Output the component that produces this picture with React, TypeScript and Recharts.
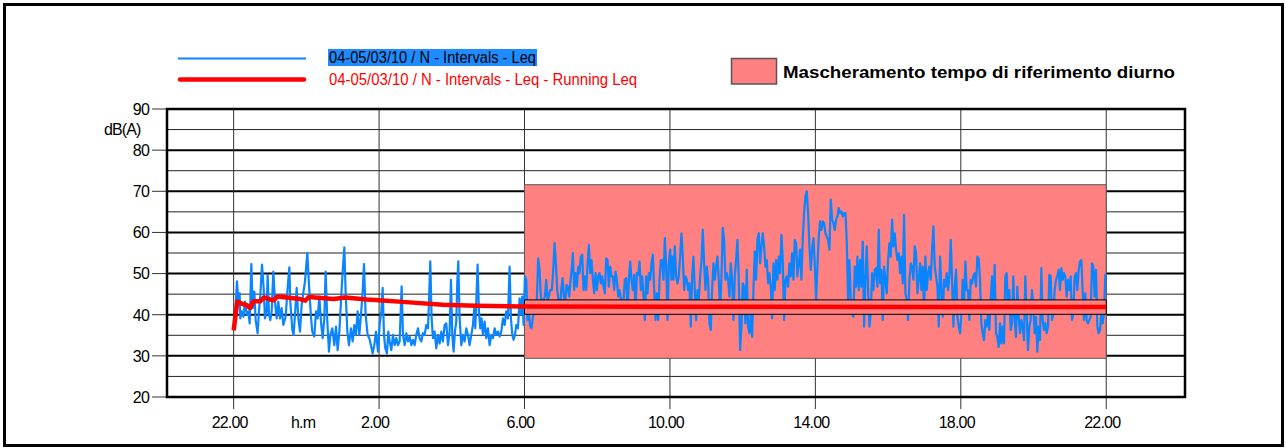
import React from 'react';
import { ComposedChart, Line, XAxis, YAxis, ReferenceLine, ReferenceArea } from 'recharts';

const FONT = '"Liberation Sans", Arial, sans-serif';

// x axis: minutes elapsed since 22:00 of the first day
const xTickMinutes = [0, 240, 480, 720, 960, 1200, 1440];
const xTickLabels = ['22.00', '2.00', '6.00', '10.00', '14.00', '18.00', '22.00'];
const xDomain = [-110, 1570];
const yTicks = [20, 30, 40, 50, 60, 70, 80, 90];
const yDomain = [20, 90];
const gridMajor = [30, 40, 50, 60, 70, 80];
const gridMinor = [25, 35, 45, 55, 65, 75, 85];

// daytime masking window
const maskStart = 480;
const maskEnd = 1440;
const maskLow = 29.4;
const maskHigh = 71.6;
const bandLow = 40.1;
const bandHigh = 43.6;

const seriesNames = [
  '04-05/03/10 / N - Intervals - Leq',
  '04-05/03/10 / N - Intervals - Leq - Running Leq',
];
const maskName = 'Mascheramento tempo di riferimento diurno';
const unitY = 'dB(A)';
const unitX = 'h.m';

// Leq intervals, [minute, dB(A)]
const leq2200to0200 = [
  [0, 37.5], [2, 38.7], [5.5, 48.1], [7.7, 43.2], [9.9, 45.2], [11, 39.1], [13.2, 40.8], [16, 39.5],
  [18.7, 43.2], [21.5, 40], [24.2, 40.8], [26.4, 37.9], [29.2, 52.3], [31.4, 41.6], [34.1, 45.6],
  [36.3, 38.7], [39.6, 35.5], [41.8, 40.8], [44, 44.8], [46.8, 52.2], [49.5, 46.5], [51.7, 39.1],
  [54.5, 40.8], [56.1, 49.7], [58.3, 40], [60.5, 38.7], [62.7, 40.8], [65.5, 50.5], [68.2, 43.2],
  [71, 39.1], [73.7, 43.2], [76.5, 39.1], [79.2, 41.6], [82, 37.5], [85.8, 39.5], [89.1, 46.5],
  [91.9, 51.5], [93.5, 43.2], [96.8, 36.3], [99, 35.1], [101.2, 40], [104, 46.5], [106.7, 39.1],
  [109.5, 35.9], [112.2, 42.4], [117.7, 48.1], [121.6, 55], [124.3, 47.3], [127.6, 39.5],
  [129.8, 35.9], [133.1, 34.7], [135.9, 40.8], [138.6, 39.1], [141.4, 44.4], [144.1, 38.3],
  [146.9, 34.3], [149.6, 39.1], [151.8, 50.5], [154.6, 38.3], [157.3, 31], [159.5, 35.1],
  [162.8, 36.7], [166.1, 32.6], [168.9, 37.1], [171.6, 31.4], [174.4, 35.9], [177.1, 43.2],
  [179.9, 50.5], [182.6, 56.4], [184.8, 45.6], [187.6, 35.9], [190.3, 32.6], [193.6, 36.7],
  [196.4, 33.5], [199.1, 37.5], [201.9, 35.1], [204.6, 40.8], [207.4, 35.1], [210.1, 40],
  [212.9, 45.6], [215.1, 52.3], [217.8, 40], [221.1, 35.1], [223.9, 34.3], [226.6, 32.6],
  [229.4, 30.6], [232.1, 32.6], [234.9, 35.9], [238.2, 31],
];

const leq0200to0600 = [
  [240.9, 37.5], [243.7, 40.8], [245.9, 46.5], [248.1, 35.1], [250.3, 31.8], [253, 30.6], [255.2, 35.9],
  [257.4, 33.5], [260.2, 31.4], [262.9, 35.1], [265.7, 32.6], [268.4, 34.3], [271.2, 32.6], [273.9, 33.5],
  [277.2, 46.9], [279.4, 35.1], [282.2, 32.6], [284.9, 35.5], [287.7, 33.5], [290.4, 34.7], [293.2, 32.6],
  [295.9, 33.9], [298.7, 32.6], [301.4, 35.1], [304.2, 36.7], [306.9, 34.3], [309.7, 33.5], [312.4, 35.5],
  [315.2, 35.1], [317.9, 37.5], [320.7, 36.7], [322.3, 43.2], [324.5, 53], [326.7, 39.1], [328.9, 34.3],
  [331.7, 35.9], [334.4, 31.8], [337.2, 35.1], [339.9, 33], [342.7, 35.9], [345.4, 33.5], [348.2, 37.5],
  [350.9, 37.9], [353.7, 32.6], [356.4, 35.9], [358.6, 48.5], [360.8, 35.1], [363, 31], [365.2, 35.9],
  [367.4, 38.3], [369.1, 48.1], [370.7, 53], [372.9, 39.1], [375.7, 32.6], [378.4, 35.1], [381.2, 33.5],
  [383.9, 36.7], [386.7, 35.1], [389.4, 32.6], [392.2, 35.1], [394.9, 37.5], [397.1, 41.6], [398.8, 36.7],
  [400.4, 43.2], [402.6, 52.2], [404.8, 40.8], [407, 36.7], [409.2, 39.1], [411.4, 35.1], [414.2, 38.3],
  [416.9, 34.3], [419.7, 36.7], [422.4, 32.6], [425.2, 35.1], [427.9, 34.3], [430.7, 36.7], [433.4, 35.1],
  [436.2, 35.9], [438.9, 34.7], [441.7, 35.9], [444.4, 39.1], [447.2, 37.5], [449.9, 40.8], [452.7, 39.1],
  [455.4, 51.7], [457.6, 39.1], [459.8, 35.1], [462, 33.9], [464.2, 35.1], [466.4, 37.5], [469.2, 36.7],
  [471.9, 44], [474.1, 40], [476.3, 44.4], [478.5, 37.5],
];

const leq0600to1000 = [
  [480.6, 49.3], [482.8, 48.5], [485, 38.7], [487.2, 40.3], [489.4, 37.1], [491.6, 36.7], [493.8, 39.5],
  [496, 40.3], [498.2, 42], [500.4, 43.6], [502.6, 53.7], [504.8, 50.9], [507, 44.4], [509.2, 42],
  [511.4, 43.6], [513.6, 44.4], [515.8, 48.5], [518, 43.6], [520.2, 44.4], [522.4, 46], [525.2, 46],
  [527.4, 50.9], [529.6, 57.4], [531.8, 52.5], [534, 46], [536.2, 43.6], [538.4, 40.3], [540.6, 46],
  [542.8, 48.9], [545, 44.4], [547.2, 42.8], [549.4, 47.2], [551.6, 46.8], [553.8, 44.4], [556, 48.5],
  [558.2, 51.7], [559.8, 55], [562, 46], [564.2, 50.1], [566.4, 46.8], [568.6, 51.7], [570.8, 50.1],
  [573, 54.1], [575.2, 54.6], [577.4, 46], [579.6, 49.3], [581.8, 46], [584, 52.1], [586.2, 57],
  [588.4, 50.1], [590.6, 53.3], [592.8, 48.5], [595, 45.2], [597.2, 50.1], [599.4, 46], [601.6, 49.3],
  [603.8, 50.1], [606, 47.6], [608.2, 49.3], [610.4, 46.8], [612.6, 45.2], [614.8, 53.7], [617, 53.3],
  [619.2, 46.8], [621.4, 51.7], [623.6, 49.3], [625.8, 49.3], [628, 46], [630.2, 50.5], [632.4, 48.5],
  [634.6, 44.4], [636.8, 46], [639, 44], [641.2, 40.3], [643.4, 43.6], [645.6, 48.5], [647.8, 48.9],
  [650, 40.3], [652.2, 48.5], [654.4, 52.9], [656.6, 48.5], [658.8, 46], [661, 49.7], [663.2, 40.3],
  [665.4, 50.1], [667.6, 49.7], [669.8, 52.9], [672, 46], [674.2, 49.3], [676.4, 44.4], [678.6, 38.7],
  [680.8, 49.3], [683, 45.2], [685.2, 50.1], [687.4, 48.5], [689.6, 52.5], [691.8, 54.6], [694, 46],
  [696.2, 38.7], [698.4, 45.2], [700.6, 38.7], [702.8, 48.5], [705, 53.3], [707.2, 53.3], [709.4, 48.5],
  [711.6, 58.6], [713.8, 51.7], [716, 38.7], [718.2, 52.5], [720.4, 55.8], [722.6, 48.5],
];

const leq1000to1400 = [
  [723.6, 54.1], [725.8, 48.5], [728, 56.6], [730.2, 49.3], [732.4, 47.6], [734.6, 49.3], [736.8, 54.1],
  [739, 59.8], [741.2, 54.1], [743.4, 46], [745.6, 49.3], [747.8, 48.5], [750, 46], [752.2, 47.6],
  [754.4, 37.1], [756.6, 49.3], [758.8, 54.1], [761, 46], [763.2, 38.7], [765.4, 46], [767.6, 43.6],
  [769.8, 49.3], [772, 52.9], [774.2, 60.6], [776.4, 52.5], [778.6, 46], [780.8, 51.7], [783, 48.5],
  [785.2, 37.9], [787.4, 36.3], [789.6, 46], [791.8, 52.5], [794, 48.5], [796.2, 51.7], [798.4, 54.1],
  [800.6, 48.5], [802.8, 40.3], [805, 49.3], [807.2, 61.1], [809.4, 58.2], [811.6, 48.5], [813.8, 50.1],
  [816, 48.5], [818.2, 44.4], [820.4, 52.5], [822.6, 48.5], [824.8, 38.7], [827, 49.3], [829.2, 53.3],
  [831.4, 58.2], [833.6, 48.5], [835.8, 31.4], [838, 37.1], [840.2, 47.6], [842.4, 46.8], [844.6, 37.9],
  [846.8, 50.9], [849, 37.1], [851.2, 35.5], [853.4, 40.3], [855.6, 34.6], [857.8, 46], [860, 55.4],
  [862.2, 48.5], [864.4, 58.2], [866.6, 59.8], [868.8, 52.5], [871, 56.6], [873.2, 59.8], [875.4, 56.6],
  [877.6, 51.7], [879.8, 53.3], [882, 47.6], [884.2, 50.1], [886.4, 46.8], [888.6, 39.1], [890.8, 52.5],
  [893, 46], [895.2, 53.3], [897.4, 48.5], [899.6, 54.1], [901.8, 50.1], [904, 59.4], [906.2, 53.3],
  [908.4, 38.7], [910.6, 48.5], [912.8, 49.3], [915, 46.8], [917.2, 52.5], [919.4, 49.3], [921.6, 54.9],
  [923.8, 48.5], [926, 58.2], [928.2, 57.4], [930.4, 49.3], [932.6, 52.5], [934.8, 55.8], [937, 48.5],
  [939.2, 58.6], [941.4, 64.7], [943.6, 68.8], [945.8, 70], [948, 64.7], [950.2, 56.6], [952.4, 50.9],
  [954.6, 55.8], [956.8, 58.6], [959, 52.5], [961.2, 43.6], [963.4, 51.7], [965.6, 59],
];

const leq1400to1800 = [
  [967.8, 62.7], [970, 60.6], [972.2, 62.7], [974.4, 62.3], [976.6, 59.8], [978.8, 59], [981, 58.2],
  [983.2, 55.8], [985.4, 68], [987.6, 63.1], [989.8, 62.3], [992, 60.6], [994.2, 63.1], [996.4, 63.9],
  [998.6, 65.9], [1000.8, 64.7], [1003, 65.1], [1005.2, 63.9], [1007.4, 64.7], [1009.6, 64.7],
  [1011.8, 57.8], [1014, 43.6], [1016.2, 53.3], [1018.4, 43.6], [1020.6, 40.3], [1022.8, 39.5],
  [1025, 51.7], [1027.2, 46.8], [1029.4, 54.1], [1031.6, 46], [1033.8, 53.3], [1036, 46.8],
  [1038.2, 57.8], [1040.4, 37.1], [1042.6, 48.5], [1044.8, 56.6], [1047, 46], [1049.2, 37.1],
  [1051.4, 40.3], [1053.6, 50.1], [1055.8, 46], [1058, 50.9], [1060.2, 51.3], [1062.4, 46.8],
  [1064.6, 60.6], [1066.8, 47.6], [1069, 50.9], [1071.2, 38.7], [1073.4, 51.7], [1075.6, 48.5],
  [1077.8, 45.2], [1080, 53.3], [1082.2, 57.4], [1084.4, 54.1], [1086.6, 63.1], [1088.8, 56.6],
  [1091, 59.8], [1093.2, 55.8], [1095.4, 53.3], [1097.6, 54.9], [1099.8, 50.1], [1102, 54.1],
  [1104.2, 47.6], [1106.4, 64.3], [1108.6, 45.2], [1110.8, 43.6], [1113, 38.7], [1115.2, 48.5],
  [1117.4, 52.5], [1119.6, 51.7], [1121.8, 48.5], [1124, 56.6], [1126.2, 54.9], [1128.4, 45.2],
  [1130.6, 48.5], [1132.8, 52.5], [1135, 46], [1137.2, 51.7], [1139.4, 40.3], [1141.6, 54.1],
  [1143.8, 46], [1146, 50.1], [1148.2, 51.7], [1150.4, 48.5], [1152.6, 55.8], [1154.8, 61.5],
  [1157, 51.7], [1159.2, 49.3], [1161.4, 46.8], [1163.6, 37.1], [1165.8, 54.1], [1168, 46],
  [1170.2, 39.5], [1172.4, 48.5], [1174.6, 46.8], [1176.8, 50.1], [1179, 46], [1181.2, 49.3],
  [1183.4, 58.2], [1185.6, 48.5], [1187.8, 37.1], [1190, 46.8], [1192.2, 50.9], [1194.4, 39.5],
  [1196.6, 37.1], [1198.8, 35.5], [1201, 40.3], [1203.2, 48.5], [1205.4, 42.8], [1207.6, 52.9],
  [1209.8, 46],
];

const leq1800to2200 = [
  [1211.9, 46], [1214.1, 38.7], [1216.3, 48.5], [1218.5, 47.6], [1220.7, 49.3], [1222.9, 50.1],
  [1225.1, 46.8], [1227.3, 54.1], [1229.5, 53.7], [1231.7, 48.5], [1233.9, 37.9], [1236.1, 35.5],
  [1238.3, 33.8], [1240.5, 38.7], [1242.7, 37.1], [1244.9, 40.3], [1247.1, 36.3], [1249.3, 43.6],
  [1251.5, 49.3], [1253.7, 40.3], [1255.9, 52.1], [1258.1, 35.5], [1260.3, 34.6], [1262.5, 32.2],
  [1264.7, 37.9], [1266.9, 33], [1269.1, 37.1], [1271.3, 33], [1273.5, 49.3], [1275.7, 50.1],
  [1277.9, 40.3], [1280.1, 46], [1282.3, 36.3], [1284.5, 37.9], [1286.7, 49.3], [1288.9, 38.7],
  [1291.1, 34.6], [1293.3, 46.8], [1295.5, 39.5], [1297.7, 35.5], [1299.9, 38.7], [1302.1, 37.1],
  [1304.3, 33.8], [1306.5, 49.3], [1308.7, 40.3], [1310.9, 31.4], [1313.1, 37.1], [1315.3, 38.7],
  [1317.5, 46], [1319.7, 42], [1321.9, 35.5], [1324.1, 39.5], [1326.3, 31], [1328.5, 37.1],
  [1330.7, 33.8], [1332.9, 51.3], [1335.1, 38.7], [1337.3, 36.3], [1339.5, 37.9], [1341.7, 35.5],
  [1343.9, 37.1], [1346.1, 49.7], [1348.3, 49.3], [1350.5, 38.7], [1352.7, 40.3], [1354.9, 46],
  [1357.1, 48.5], [1359.3, 49.3], [1361.5, 50.9], [1363.7, 46], [1365.9, 51.3], [1368.1, 48.5],
  [1370.3, 50.1], [1372.5, 49.3], [1374.7, 44.4], [1376.9, 48.5], [1379.1, 46], [1381.3, 49.3],
  [1383.5, 38.7], [1385.7, 40.3], [1387.9, 49.3], [1390.1, 50.1], [1392.3, 46], [1394.5, 50.9],
  [1396.7, 52.9], [1398.9, 53.3], [1401.1, 46], [1403.3, 38.7], [1405.5, 45.2], [1407.7, 38.7],
  [1409.9, 37.9], [1412.1, 38.7], [1414.3, 39.5], [1416.5, 52.5], [1418.7, 51.7], [1420.9, 44.4],
  [1423.1, 50.9], [1425.3, 37.1], [1427.5, 35.5], [1429.7, 36.3], [1431.9, 40.3], [1434.1, 37.9],
  [1436.3, 40.3], [1438.5, 49.7], [1440, 50],
];

// Running Leq, [minute, dB(A)]
const runningLeq = [
  [0, 36.2], [6, 43.2], [15, 42.6], [22, 42.3], [27, 41.6], [33, 43.3], [44, 43.3], [50, 44.2],
  [60, 43.7], [66, 43.5], [72, 44.4], [110, 43.8], [118, 43.4], [124, 44.3], [165, 43.8], [184, 44.2],
  [220, 43.7], [240, 43.5], [290, 43.0], [345, 42.4], [400, 42.2], [477, 42.0], [720, 41.95],
  [1100, 41.9], [1440, 41.9],
];

const toPoints = (arr: number[][]) => arr.map(([t, v]) => ({ t, v }));
const leqData = toPoints([
  ...leq2200to0200, ...leq0200to0600, ...leq0600to1000,
  ...leq1000to1400, ...leq1400to1800, ...leq1800to2200,
]);
const runningData = toPoints(runningLeq);

const XTick = (p: any) => {
  const i = xTickMinutes.indexOf(p.payload.value);
  return (
    <text x={p.x - 4} y={p.y} dy={14} textAnchor="middle" fontSize={16} letterSpacing={-0.8}
      fontFamily={FONT} fill="#000">{i >= 0 ? xTickLabels[i] : ''}</text>
  );
};

const YTick = (p: any) => (
  <text x={p.x} y={p.y} dy={5.8} textAnchor="end" fontSize={16} letterSpacing={-0.8}
    fontFamily={FONT} fill="#000">{p.payload.value}</text>
);

export default function App() {
  return (
    <div style={{ position: 'absolute', left: 0, top: 0, width: 1286, height: 448, background: '#fff' }}>
      <ComposedChart width={1286} height={448} margin={{ top: 109, right: 101, bottom: 0, left: 0 }}>
        <XAxis type="number" dataKey="t" domain={xDomain} ticks={xTickMinutes} interval={0}
          allowDataOverflow height={51} tickSize={12} tickMargin={5} axisLine={false}
          tickLine={{ stroke: '#333', strokeWidth: 1 }} tick={(p: any) => <XTick {...p} />} />
        <YAxis type="number" domain={yDomain} ticks={yTicks} interval={0} width={167}
          tickSize={15} tickMargin={3} axisLine={false}
          tickLine={{ stroke: '#333', strokeWidth: 1 }} tick={(p: any) => <YTick {...p} />} />
        {gridMinor.map((v) => (
          <ReferenceLine key={'mi' + v} y={v} stroke="#222" strokeWidth={1} zIndex={300} />
        ))}
        {gridMajor.map((v) => (
          <ReferenceLine key={'ma' + v} y={v} stroke="#000" strokeWidth={2} zIndex={300} />
        ))}
        {xTickMinutes.map((v) => (
          <ReferenceLine key={'vx' + v} x={v} stroke="#333" strokeWidth={1} zIndex={300} />
        ))}
        <ReferenceArea x1={maskStart} x2={maskEnd} y1={maskLow} y2={maskHigh} fill="#FF8080"
          fillOpacity={1} stroke="#5a5a5a" strokeWidth={1} zIndex={350} />
        <Line data={leqData} dataKey="v" type="linear" stroke="#0A84FF" strokeWidth={2.2}
          dot={false} activeDot={false} isAnimationActive={false} strokeLinejoin="round" zIndex={400} />
        <ReferenceArea x1={maskStart} x2={maskEnd} y1={bandLow} y2={bandHigh} fill="#FF8080"
          fillOpacity={1} stroke="#000" strokeWidth={1} zIndex={450} />
        <Line data={runningData} dataKey="v" type="linear" stroke="#FF0000" strokeWidth={4.5}
          dot={false} activeDot={false} isAnimationActive={false} strokeLinejoin="round" zIndex={500} />
        <ReferenceArea x1={xDomain[0]} x2={xDomain[1]} y1={yDomain[0]} y2={yDomain[1]} fill="none"
          stroke="#000" strokeWidth={2.5} zIndex={600} />
      </ComposedChart>
      <svg width={1286} height={448} style={{ position: 'absolute', left: 0, top: 0, pointerEvents: 'none' }}>
        <rect x={4.5} y={4.5} width={1278} height={441} fill="none" stroke="#000" strokeWidth={3} />
        <line x1={178} x2={306} y1={58.5} y2={58.5} stroke="#0A84FF" strokeWidth={2} />
        <line x1={180} x2={304} y1={79.5} y2={79.5} stroke="#FF0000" strokeWidth={4.5} strokeLinecap="round" />
        <rect x={328} y={49} width={209} height={17} fill="#1E8CFF" />
        <text x={329} y={63} fontSize={16} fontFamily={FONT} fill="#000" textLength={207}
          lengthAdjust="spacingAndGlyphs">{seriesNames[0]}</text>
        <text x={329} y={85} fontSize={16} fontFamily={FONT} fill="#FF0000" textLength={308}
          lengthAdjust="spacingAndGlyphs">{seriesNames[1]}</text>
        <rect x={731.5} y={58.5} width={45} height={25.5} fill="#FF8080" stroke="#555" strokeWidth={1.5} />
        <text x={783} y={78} fontSize={16} fontWeight="bold" fontFamily={FONT} fill="#000"
          textLength={392} lengthAdjust="spacingAndGlyphs">{maskName}</text>
        <text x={104} y={135} fontSize={16} letterSpacing={-0.9} fontFamily={FONT} fill="#000">{unitY}</text>
        <text x={291} y={428} fontSize={16} letterSpacing={-0.8} fontFamily={FONT} fill="#000">{unitX}</text>
      </svg>
    </div>
  );
}
